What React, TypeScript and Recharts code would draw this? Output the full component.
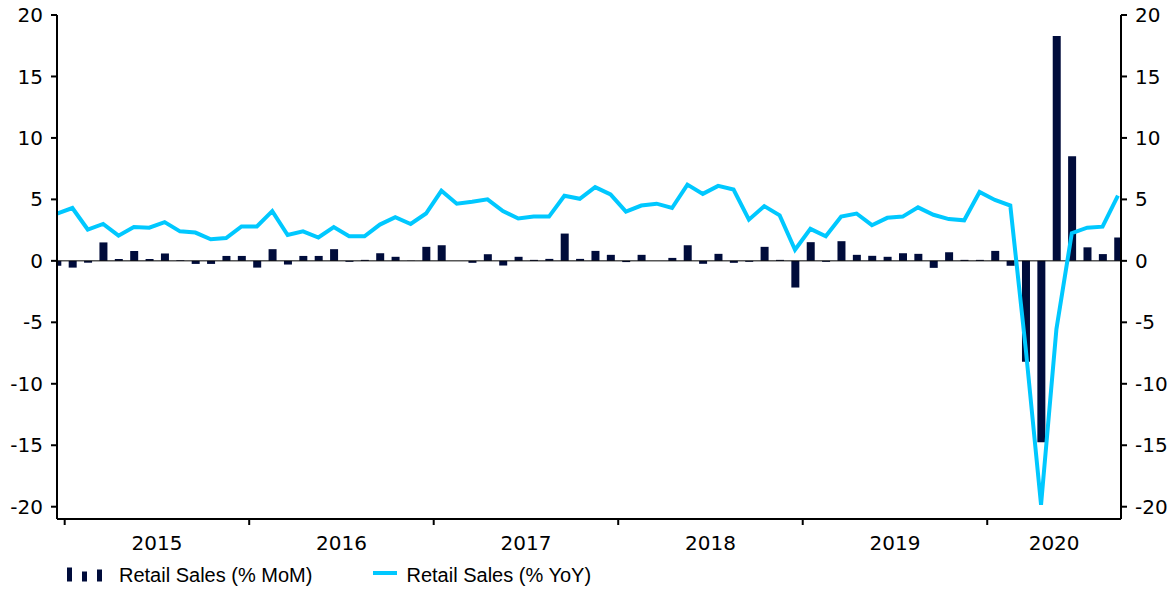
import React from 'react';
import { ComposedChart, Bar, Line, XAxis, YAxis, ReferenceLine } from 'recharts';

const months = [
  'Dec 2014',
  'Jan 2015', 'Feb 2015', 'Mar 2015', 'Apr 2015', 'May 2015', 'Jun 2015', 'Jul 2015', 'Aug 2015', 'Sep 2015', 'Oct 2015', 'Nov 2015', 'Dec 2015',
  'Jan 2016', 'Feb 2016', 'Mar 2016', 'Apr 2016', 'May 2016', 'Jun 2016', 'Jul 2016', 'Aug 2016', 'Sep 2016', 'Oct 2016', 'Nov 2016', 'Dec 2016',
  'Jan 2017', 'Feb 2017', 'Mar 2017', 'Apr 2017', 'May 2017', 'Jun 2017', 'Jul 2017', 'Aug 2017', 'Sep 2017', 'Oct 2017', 'Nov 2017', 'Dec 2017',
  'Jan 2018', 'Feb 2018', 'Mar 2018', 'Apr 2018', 'May 2018', 'Jun 2018', 'Jul 2018', 'Aug 2018', 'Sep 2018', 'Oct 2018', 'Nov 2018', 'Dec 2018',
  'Jan 2019', 'Feb 2019', 'Mar 2019', 'Apr 2019', 'May 2019', 'Jun 2019', 'Jul 2019', 'Aug 2019', 'Sep 2019', 'Oct 2019', 'Nov 2019', 'Dec 2019',
  'Jan 2020', 'Feb 2020', 'Mar 2020', 'Apr 2020', 'May 2020', 'Jun 2020', 'Jul 2020', 'Aug 2020', 'Sep 2020',
];

const momValues = [
  -0.4,
  -0.55, -0.15, 1.5, 0.15, 0.8, 0.15, 0.6, 0.05, -0.25, -0.25, 0.4, 0.4,
  -0.55, 0.95, -0.3, 0.4, 0.4, 0.95, -0.08, 0.08, 0.62, 0.33, 0.02, 1.14,
  1.27, 0.0, -0.16, 0.54, -0.38, 0.33, 0.08, 0.16, 2.22, 0.16, 0.81, 0.49,
  -0.1, 0.49, 0.0, 0.24, 1.27, -0.24, 0.57, -0.16, -0.08, 1.14, 0.08, -2.17,
  1.52, -0.08, 1.6, 0.49, 0.41, 0.33, 0.62, 0.57, -0.57, 0.7, 0.08, 0.08,
  0.81, -0.4, -8.2, -14.75, 18.3, 8.5, 1.1, 0.55, 1.9,
];

const yoyValues = [
  3.85,
  4.3, 2.55, 3.0, 2.05, 2.75, 2.7, 3.15, 2.4, 2.3, 1.75, 1.85, 2.8,
  2.8, 4.05, 2.1, 2.4, 1.9, 2.75, 2.0, 2.0, 2.95, 3.55, 3.0, 3.85,
  5.7, 4.65, 4.8, 5.0, 4.05, 3.45, 3.6, 3.6, 5.3, 5.05, 6.0, 5.4,
  4.0, 4.5, 4.65, 4.3, 6.2, 5.45, 6.1, 5.8, 3.35, 4.45, 3.7, 0.9,
  2.6, 2.0, 3.6, 3.85, 2.9, 3.5, 3.6, 4.35, 3.75, 3.4, 3.3, 5.6,
  4.95, 4.5, -7.1, -19.85, -5.55, 2.25, 2.7, 2.78, 5.3,
];

const yearLabels = ['2015', '2016', '2017', '2018', '2019', '2020'];
const yearFirstMonthIndex = [1, 13, 25, 37, 49, 61];
const yTicks = [-20, -15, -10, -5, 0, 5, 10, 15, 20];
const yDomain: [number, number] = [-21, 20];
const xDomainEnd = 69.2;

const MOM_COLOR = '#000C3B';
const YOY_COLOR = '#00C8FF';
const AXIS_FONT = "'DejaVu Sans', Verdana, sans-serif";
const LEGEND_FONT = "'Liberation Sans', Arial, sans-serif";

const data = months.map((m, i) => ({ i, month: m, mom: momValues[i], yoy: yoyValues[i] }));

const boundaryTicks = yearFirstMonthIndex.map((v) => v - 0.5);
const centerTicks = boundaryTicks.map((b, k) =>
  k + 1 < boundaryTicks.length ? (b + boundaryTicks[k + 1]) / 2 : (b + xDomainEnd) / 2
);
const xTicks = [...boundaryTicks, ...centerTicks].sort((a, b) => a - b);

const XTick = (props: any) => {
  const { x, y, payload } = props;
  const v = payload.value;
  if (boundaryTicks.indexOf(v) >= 0) {
    return <line x1={x} x2={x} y1={y} y2={y + 6} stroke="#000" strokeWidth={2} />;
  }
  const idx = centerTicks.indexOf(v);
  return (
    <text x={x} y={y + 31} textAnchor="middle" fill="#000" fontSize={20} fontFamily={AXIS_FONT}>
      {yearLabels[idx]}
    </text>
  );
};

const Legend = () => (
  <svg width={1175} height={589} style={{ position: 'absolute', left: 0, top: 0, pointerEvents: 'none' }}>
    <rect x={67} y={567.5} width={5} height={14} fill={MOM_COLOR} />
    <rect x={82} y={571.5} width={5} height={10} fill={MOM_COLOR} />
    <rect x={97} y={569.5} width={5} height={12} fill={MOM_COLOR} />
    <text x={119} y={581.5} fontSize={20} fontFamily={LEGEND_FONT} fill="#000">
      Retail Sales (% MoM)
    </text>
    <line x1={373} x2={397} y1={573} y2={573} stroke={YOY_COLOR} strokeWidth={4} />
    <text x={406.5} y={581.5} fontSize={20} fontFamily={LEGEND_FONT} fill="#000">
      Retail Sales (% YoY)
    </text>
  </svg>
);

export default function App() {
  return (
    <div style={{ position: 'absolute', left: 0, top: 0, width: 1175, height: 589, background: '#fff' }}>
      <ComposedChart
        width={1175}
        height={589}
        data={data}
        margin={{ top: 15, right: 0, bottom: 0, left: 0 }}
      >
        <XAxis
          dataKey="i"
          type="number"
          domain={[0, xDomainEnd]}
          allowDataOverflow
          ticks={xTicks}
          interval={0}
          tick={<XTick />}
          tickLine={false}
          tickSize={0}
          tickMargin={0}
          height={70}
          axisLine={{ stroke: '#000', strokeWidth: 2 }}
        />
        <YAxis
          yAxisId="left"
          orientation="left"
          domain={yDomain}
          ticks={yTicks}
          interval={0}
          allowDataOverflow
          width={57}
          tickSize={6}
          tickMargin={8}
          axisLine={{ stroke: '#000', strokeWidth: 2 }}
          tickLine={{ stroke: '#000', strokeWidth: 2 }}
          tick={{ fill: '#000', fontSize: 20, fontFamily: AXIS_FONT }}
        />
        <YAxis
          yAxisId="right"
          orientation="right"
          domain={yDomain}
          ticks={yTicks}
          interval={0}
          allowDataOverflow
          width={54}
          tickSize={6}
          tickMargin={8}
          axisLine={{ stroke: '#000', strokeWidth: 2 }}
          tickLine={{ stroke: '#000', strokeWidth: 2 }}
          tick={{ fill: '#000', fontSize: 20, fontFamily: AXIS_FONT }}
        />
        <Bar
          yAxisId="left"
          dataKey="mom"
          name="Retail Sales (% MoM)"
          fill={MOM_COLOR}
          barSize={8}
          isAnimationActive={false}
        />
        <ReferenceLine yAxisId="left" y={0} stroke="#000" strokeWidth={1} />
        <Line
          yAxisId="right"
          type="linear"
          dataKey="yoy"
          name="Retail Sales (% YoY)"
          stroke={YOY_COLOR}
          strokeWidth={4}
          dot={false}
          activeDot={false}
          isAnimationActive={false}
        />
      </ComposedChart>
      <Legend />
    </div>
  );
}
